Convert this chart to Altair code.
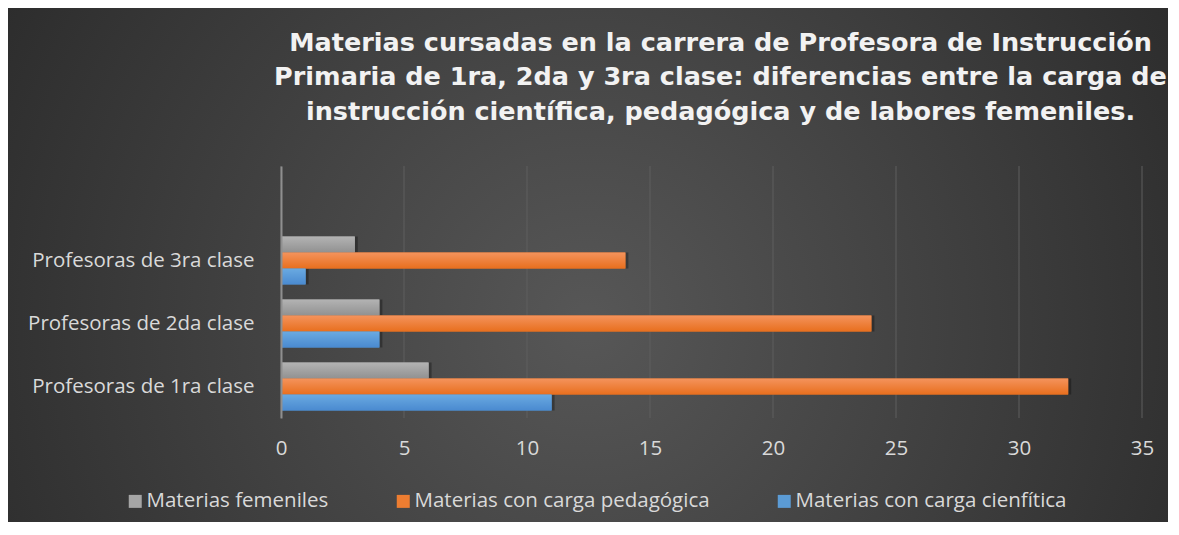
import altair as alt
import pandas as pd

categories = ["Profesoras de 3ra clase", "Profesoras de 2da clase", "Profesoras de 1ra clase"]
series = ["Materias femeniles", "Materias con carga pedagógica", "Materias con carga cienfítica"]
femeniles = [3, 4, 6]
pedagogica = [14, 24, 32]
cientifica = [1, 4, 11]
x_ticks = [0, 5, 10, 15, 20, 25, 30, 35]
colors = ["#a5a5a5", "#ed7d31", "#5b9bd5"]
grad_top = ["#b3b3b3", "#f4935c", "#6aaae1"]
grad_bot = ["#919191", "#e86f1e", "#4a8ad0"]

title_lines = [
    "Materias cursadas en la carrera de Profesora de Instrucción",
    "Primaria de 1ra, 2da y 3ra clase: diferencias entre la carga de",
    "instrucción  científica, pedagógica y de labores femeniles.",
]

rows = []
for vals, s in zip([femeniles, pedagogica, cientifica], series):
    for c, v in zip(categories, vals):
        rows.append({"categoria": c, "serie": s, "valor": v})
df = pd.DataFrame(rows)

W, H = 861, 252
PL, PT, PR, PB = 273, 158, 26, 104
FONT = "Open Sans"
FS = 20.5

y_domain = [" "] + categories

bg = alt.Chart(pd.DataFrame({"a": [0]})).mark_rect(
    color=alt.RadialGradient(
        gradient="radial", x1=0.5, y1=0.55, r1=0, x2=0.5, y2=0.55, r2=0.72,
        stops=[alt.GradientStop(offset=0, color="#575757"),
               alt.GradientStop(offset=1, color="#222222")],
    )
).encode(
    x=alt.value(-PL), x2=alt.value(W + PR), y=alt.value(-PT), y2=alt.value(H + PB)
)

x_scale = alt.Scale(domain=[0, 35], nice=False)
x_axis = alt.Axis(title=None, values=x_ticks, labelFontSize=FS, labelColor="#d9d9d9",
                  labelFont=FONT, labelPadding=20, ticks=False, domain=False,
                  grid=False, zindex=1, labelFlush=False)

grid = alt.Chart(pd.DataFrame({"valor": x_ticks})).mark_rule(color="#5e5e5e", strokeWidth=1).encode(
    x=alt.X("valor:Q", scale=x_scale, axis=x_axis)
)

y_enc = alt.Y("categoria:N", scale=alt.Scale(domain=y_domain, paddingInner=0.24, paddingOuter=0.12),
              axis=alt.Axis(title=None, labelFontSize=FS, labelColor="#d9d9d9", labelFont=FONT,
                            labelPadding=27, ticks=False, domainColor="#8f8f8f", domainWidth=2,
                            grid=False, zindex=1, labelLimit=400))
x_enc = alt.X("valor:Q", scale=x_scale, axis=x_axis)
yo_enc = alt.YOffset("serie:N", scale=alt.Scale(domain=series, paddingInner=0, paddingOuter=0))

base = alt.Chart(df)

flat = base.mark_bar().encode(
    x=x_enc, y=y_enc, yOffset=yo_enc,
    color=alt.Color("serie:N", scale=alt.Scale(domain=series, range=colors),
                    legend=alt.Legend(title=None, orient="none", legendX=-156, legendY=325,
                                      direction="horizontal", symbolType="square", symbolSize=169,
                                      symbolStrokeWidth=0, labelFontSize=FS, labelColor="#d9d9d9",
                                      labelFont=FONT, columnPadding=64, labelOffset=1,
                                      labelLimit=500)),
)

shadow = base.mark_bar(color="#000000", opacity=0.3, xOffset=3).encode(
    x=x_enc, y=y_enc, yOffset=yo_enc
)

grads = []
for s, t, b in zip(series, grad_top, grad_bot):
    grads.append(
        base.transform_filter(alt.datum.serie == s).mark_bar(
            color=alt.LinearGradient(gradient="linear", x1=0, y1=0, x2=0, y2=1,
                                     stops=[alt.GradientStop(offset=0, color=t),
                                            alt.GradientStop(offset=1, color=b)])
        ).encode(x=x_enc, y=y_enc, yOffset=yo_enc)
    )

chart = alt.layer(bg, grid, shadow, flat, *grads).properties(
    width=W, height=H,
    padding={"left": PL, "top": PT, "right": PR, "bottom": PB},
    autosize=alt.AutoSizeParams(type="none"),
    background="white",
    title=alt.TitleParams(text=title_lines, font="DejaVu Sans", fontWeight="bold", fontSize=25.5,
                          color="#f2f2f2", anchor="middle", offset=0, lineHeight=34.5, dx=9, dy=117),
).configure_view(stroke=None)

chart.save("out.html", embed_options={"renderer": "svg", "actions": False})
